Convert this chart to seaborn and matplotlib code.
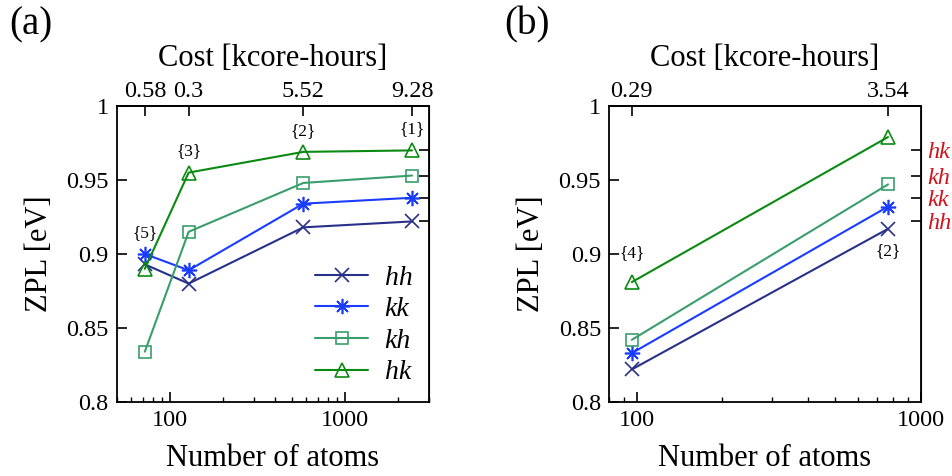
import numpy as np
import pandas as pd
import matplotlib
matplotlib.use("Agg")
import matplotlib.pyplot as plt
from matplotlib.ticker import NullLocator
import seaborn as sns

# ---------------- data ----------------
series = ["hh", "kk", "kh", "hk"]

atoms_a = [72, 128, 576, 2400]
cost_a = ["0.58", "0.3", "5.52", "9.28"]
hh_a = [0.893, 0.880, 0.918, 0.922]
kk_a = [0.900, 0.889, 0.934, 0.938]
kh_a = [0.834, 0.915, 0.948, 0.953]
hk_a = [0.890, 0.955, 0.969, 0.970]
tags_a = ["{5}", "{3}", "{2}", "{1}"]

atoms_b = [96, 768]
cost_b = ["0.29", "3.54"]
hh_b = [0.822, 0.917]
kk_b = [0.833, 0.932]
kh_b = [0.842, 0.947]
hk_b = [0.881, 0.979]
tags_b = ["{4}", "{2}"]

yticks = [0.8, 0.85, 0.9, 0.95, 1.0]
ytick_labels = ["0.8", "0.85", "0.9", "0.95", "1"]

# ---------------- style ----------------
sns.set_style("ticks")
plt.rcParams["font.family"] = ["Liberation Serif", "DejaVu Serif"]
for k in ["text.color", "axes.labelcolor", "xtick.color", "ytick.color", "axes.edgecolor"]:
    plt.rcParams[k] = "black"

colors = {"hh": "#28308a", "kk": "#1a3cff", "kh": "#3a9e6c", "hk": "#0b8a12"}
markers = {"hh": "x", "kk": (8, 2, 0), "kh": "s", "hk": "^"}
msizes = {"hh": 10, "kk": 11, "kh": 9, "hk": 10}
red = "#d0131c"
TICK = 17.5
LAB = 22

fig = plt.figure(figsize=(9.53, 4.76), dpi=100)
ax_a = fig.add_axes([0.1228, 0.1555, 0.3274, 0.6218])
ax_b = fig.add_axes([0.6394, 0.1555, 0.3265, 0.6218])


def draw(ax, atoms, vals):
    for s in series:
        df = pd.DataFrame({"atoms": atoms, "zpl": vals[s]})
        sns.lineplot(data=df, x="atoms", y="zpl", ax=ax, color=colors[s],
                     marker=markers[s], markersize=msizes[s],
                     markerfacecolor="none", markeredgecolor=colors[s],
                     markeredgewidth=1.2, linewidth=1.5, label=s, legend=False)


def style_axes(ax, atoms, costs, xlim, xticks, xticklabels):
    ax.set_xscale("log")
    ax.set_xlim(*xlim)
    ax.set_ylim(0.8, 1.0)
    ax.set_xticks(xticks)
    ax.set_xticklabels(xticklabels)
    ax.set_yticks(yticks)
    ax.set_yticklabels(ytick_labels)
    for sp in ax.spines.values():
        sp.set_visible(True)
        sp.set_linewidth(1.3)
        sp.set_color("black")
    ax.tick_params(which="major", direction="in", length=7, width=1.2,
                   labelsize=TICK, pad=6, colors="black")
    ax.tick_params(which="minor", direction="in", length=3.5, width=1.0)
    ax.tick_params(axis="y", which="minor", left=False)
    ax.set_xlabel("Number of atoms", fontsize=LAB, labelpad=9)
    ax.set_ylabel("ZPL [eV]", fontsize=LAB, labelpad=9)
    top = ax.secondary_xaxis("top")
    top.set_xticks(atoms)
    top.set_xticklabels(costs)
    top.xaxis.set_minor_locator(NullLocator())
    top.spines["top"].set_linewidth(1.3)
    top.tick_params(which="major", direction="in", length=7, width=1.2,
                    labelsize=TICK, pad=3, colors="black")
    top.set_xlabel("Cost [kcore-hours]", fontsize=LAB, labelpad=11)
    return top


# ---------------- panel (a) ----------------
vals_a = {"hh": hh_a, "kk": kk_a, "kh": kh_a, "hk": hk_a}
draw(ax_a, atoms_a, vals_a)
style_axes(ax_a, atoms_a, cost_a, (50, 3000), [100, 1000], ["100", "1000"])
right_a = ax_a.secondary_yaxis("right")
right_a.set_yticks([vals_a[s][-1] for s in series])
right_a.set_yticklabels([])
right_a.tick_params(direction="in", length=7, width=1.2)

for i, t in enumerate(tags_a):
    ymax = max(vals_a[s][i] for s in series)
    ax_a.annotate(t, (atoms_a[i], ymax), xytext=(0, 21), textcoords="offset pixels",
                  ha="center", va="center", fontsize=12.5)

leg = ax_a.legend(loc="lower right", frameon=False, fontsize=20,
                  handlelength=1.9, labelspacing=0.22, borderaxespad=0.2,
                  handletextpad=0.6)
for txt in leg.get_texts():
    txt.set_fontstyle("italic")

# ---------------- panel (b) ----------------
vals_b = {"hh": hh_b, "kk": kk_b, "kh": kh_b, "hk": hk_b}
draw(ax_b, atoms_b, vals_b)
style_axes(ax_b, atoms_b, cost_b, (80, 1000), [100, 1000], ["100", "1000"])
right_b = ax_b.secondary_yaxis("right")
right_b.set_yticks([vals_a[s][-1] for s in series])
right_b.set_yticklabels(series)
right_b.tick_params(direction="in", length=7, width=1.2, labelsize=17.5,
                    labelcolor=red, pad=5)
for lab in right_b.get_yticklabels():
    lab.set_fontstyle("italic")

ax_b.annotate(tags_b[0], (atoms_b[0], max(vals_b[s][0] for s in series)),
              xytext=(0, 29), textcoords="offset pixels", ha="center",
              va="center", fontsize=12.5)
ax_b.annotate(tags_b[1], (atoms_b[1], min(vals_b[s][1] for s in series)),
              xytext=(0, -22), textcoords="offset pixels", ha="center",
              va="center", fontsize=12.5)

fig.text(0.032, 0.948, "(a)", fontsize=28, ha="center", va="center")
fig.text(0.553, 0.948, "(b)", fontsize=28, ha="center", va="center")

fig.savefig("out.png", dpi=100)
